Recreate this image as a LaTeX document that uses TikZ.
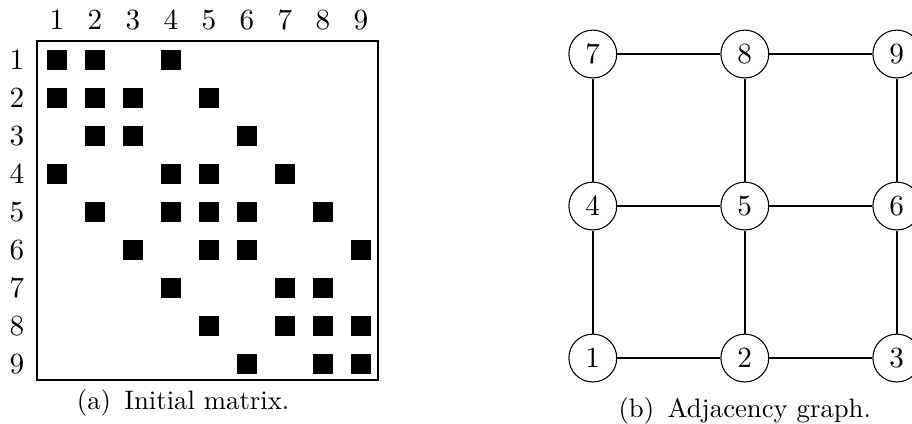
\documentclass[tikz,border=0pt]{standalone}
\usepackage{tikz}

\tikzstyle{vertex}=[circle,draw,thin,minimum size=0.63cm,inner sep=0pt,font=\fontsize{10.95}{13.6}\selectfont]
\tikzstyle{edge} = [draw,semithick]
\tikzstyle{entry} = [rectangle,fill=black,minimum size=0.26cm,inner sep=0pt]
\tikzstyle{frame} = [draw,thick]
\tikzstyle{index} = [inner sep=0pt,font=\fontsize{10.95}{13.6}\selectfont]

\begin{document}
\begin{tikzpicture}
     \useasboundingbox (0,0) rectangle (12,5.566);
     % (a) the matrix: frame, row and column indices
     \draw[frame] (0.487,0.566) rectangle (4.974,5.026);
     \foreach \k in {1,...,9}
     {
       \node[index] (c\k) at ({0.75+0.5*(\k-1)},5.30) {$\k$};
       \node[index] (r\k) at (0.224,{4.776-0.5*(\k-1)}) {$\k$};
     }
     % nonzero entries, row by row
     \foreach \row/\cols in {1/{1,2,4}, 2/{1,2,3,5}, 3/{2,3,6},
       4/{1,4,5,7}, 5/{2,4,5,6,8}, 6/{3,5,6,9},
       7/{4,7,8}, 8/{5,7,8,9}, 9/{6,8,9}}
     \foreach \col in \cols
     \node[entry] (e\row-\col) at ({0.75+0.5*(\col-1)},{4.776-0.5*(\row-1)}) {};
     \node (capa) at (2.41,0.263) {(a)\enspace Initial matrix.};

     % (b) the adjacency graph
     \foreach \pos/\name in {{(7.8,0.855)/1}, {(9.8,0.855)/2}, {(11.8,0.855)/3},
       {(7.8,2.855)/4}, {(9.8,2.855)/5}, {(11.8,2.855)/6},
       {(7.8,4.855)/7}, {(9.8,4.855)/8}, {(11.8,4.855)/9}}
     \node[vertex] (\name) at \pos {$\name$};
     \foreach \source/ \dest in {1/2,2/3,4/5,5/6,7/8,8/9,1/4,4/7,2/5,5/8,3/6,6/9}
     \path[edge] (\source) -- (\dest);
     \node (capb) at (9.8,0.158) {(b)\enspace Adjacency graph.};
\end{tikzpicture}
\end{document}
